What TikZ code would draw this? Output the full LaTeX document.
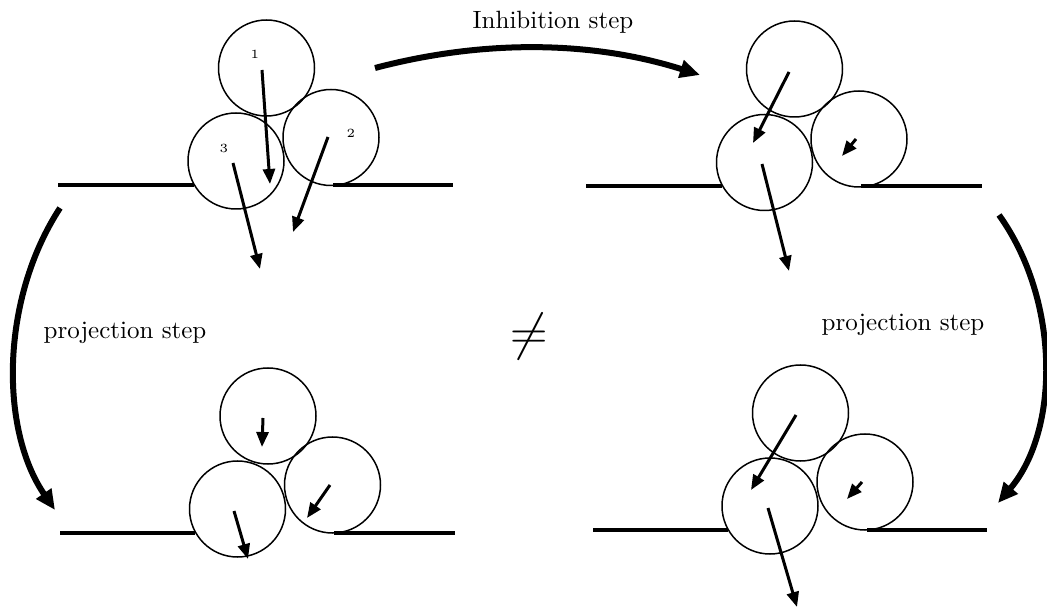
\documentclass[tikz,border=0pt]{standalone}
\usetikzlibrary{arrows.meta}
\begin{document}
\begin{tikzpicture}[x=0.4pt,y=-0.4pt,
  ball/.style={draw,circle,minimum size=38.4pt,inner sep=0pt,line width=0.6pt},
  wall/.style={line width=1.6pt},
  vel/.style={line width=1.2pt,-{Triangle[length=6pt,width=4.8pt]}},
  bigarrow/.style={line width=2.4pt,-{Triangle[length=8pt,width=7pt]}},
  lab/.style={font=\tiny,inner sep=0pt}]
\useasboundingbox (0,0) rectangle (1047,612);
% ---------- top left ----------
\draw[wall] (58,185) coordinate (tlA) -- (194,185) coordinate (tlB);
\draw[wall] (333,185) coordinate (tlC) -- (453,185) coordinate (tlD);
\node[ball] (tl1) at (266.5,68) {};
\node[ball] (tl3) at (236,161) {};
\node[ball] (tl2) at (331,137.5) {};
\node[lab] (n1) at (255,54) {1};
\node[lab] (n2) at (351,133) {2};
\node[lab] (n3) at (224,148) {3};
\coordinate (a1s) at (262,70);  \coordinate (a1e) at (270,184);
\coordinate (a2s) at (328,137); \coordinate (a2e) at (293,232);
\coordinate (a3s) at (233,163); \coordinate (a3e) at (260,269);
\draw[vel] (a1s) -- (a1e);
\draw[vel] (a2s) -- (a2e);
\draw[vel] (a3s) -- (a3e);
% ---------- top right ----------
\draw[wall] (586,186) coordinate (trA) -- (722,186) coordinate (trB);
\draw[wall] (861,186) coordinate (trC) -- (982,186) coordinate (trD);
\node[ball] (tr1) at (794.5,69) {};
\node[ball] (tr3) at (764.5,162.5) {};
\node[ball] (tr2) at (859,139) {};
\coordinate (b1s) at (789,72);  \coordinate (b1e) at (753,143);
\coordinate (b2s) at (856,139); \coordinate (b2e) at (842,156);
\coordinate (b3s) at (762,164); \coordinate (b3e) at (789,271);
\draw[vel] (b1s) -- (b1e);
\draw[vel] (b2s) -- (b2e);
\draw[vel] (b3s) -- (b3e);
% ---------- bottom left ----------
\draw[wall] (60,533) coordinate (blA) -- (195,533) coordinate (blB);
\draw[wall] (334,533) coordinate (blC) -- (455,533) coordinate (blD);
\node[ball] (bl1) at (268,416) {};
\node[ball] (bl3) at (237.5,509) {};
\node[ball] (bl2) at (332.5,485) {};
\coordinate (c1s) at (263,418); \coordinate (c1e) at (262,447);
\coordinate (c2s) at (330,485); \coordinate (c2e) at (307,518);
\coordinate (c3s) at (234,511); \coordinate (c3e) at (248,559);
\draw[vel] (c1s) -- (c1e);
\draw[vel] (c2s) -- (c2e);
\draw[vel] (c3s) -- (c3e);
% ---------- bottom right ----------
\draw[wall] (593,530) coordinate (brA) -- (728,530) coordinate (brB);
\draw[wall] (867,530) coordinate (brC) -- (987,530) coordinate (brD);
\node[ball] (br1) at (800.5,413) {};
\node[ball] (br3) at (770,506) {};
\node[ball] (br2) at (865,482) {};
\coordinate (d1s) at (796,415); \coordinate (d1e) at (751,490);
\coordinate (d2s) at (862,482); \coordinate (d2e) at (847,499);
\coordinate (d3s) at (768,508); \coordinate (d3e) at (797,607);
\draw[vel] (d1s) -- (d1e);
\draw[vel] (d2s) -- (d2e);
\draw[vel] (d3s) -- (d3e);
% ---------- transitions ----------
\coordinate (p1) at (375,68);  \coordinate (p2) at (700,75);
\coordinate (q1) at (60,208);  \coordinate (q2) at (55,510);
\coordinate (r1) at (999,215); \coordinate (r2) at (998,503);
\draw[bigarrow] (p1) .. controls (485,39) and (593,41) .. (p2);
\draw[bigarrow] (q1) .. controls (0,300) and (0,430) .. (q2);
\draw[bigarrow] (r1) .. controls (1060,300) and (1060,430) .. (r2);
\node (inh) at (553,22) {Inhibition step};
\node (projL) at (125,333) {projection step};
\node (projR) at (903,325) {projection step};
\node (neq) at (529,337) {\huge $\neq$};
\end{tikzpicture}
\end{document}
